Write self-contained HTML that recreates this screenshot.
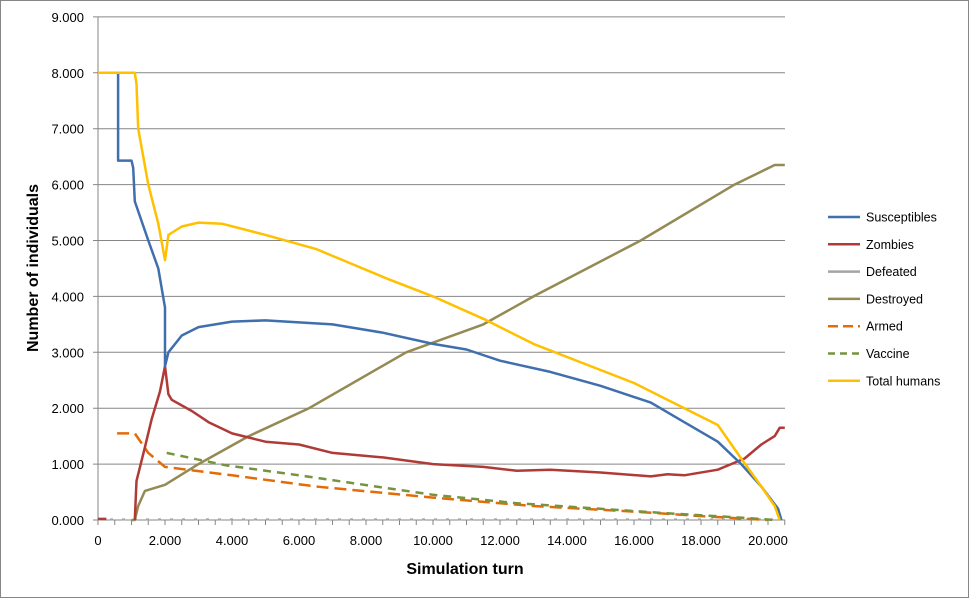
<!DOCTYPE html>
<html><head><meta charset="utf-8"><style>
body{margin:0;background:#fff;font-family:"Liberation Sans",sans-serif}
svg{display:block}
</style></head><body>
<svg id="s" width="970" height="599" xmlns="http://www.w3.org/2000/svg" font-family="Liberation Sans, sans-serif">
<rect x="0.5" y="0.5" width="968" height="597" fill="#fff" stroke="#868686"/>
<g id="grid"></g>
<g id="series" fill="none" stroke-linejoin="round"></g>
<g font-size="13" fill="#000" id="labels"></g>
<text x="465" y="574" font-size="16" font-weight="bold" text-anchor="middle">Simulation turn</text>
<text transform="translate(38,268) rotate(-90)" font-size="16" font-weight="bold" text-anchor="middle">Number of individuals</text>
<g font-size="12.5" id="legend"></g>
</svg>
<script>
const NS="http://www.w3.org/2000/svg";
const X=t=>98+t*33.5, Y=v=>520-v*55.9;
function el(p,tag,a,txt){const e=document.createElementNS(NS,tag);for(const k in a)e.setAttribute(k,a[k]);if(txt!==undefined)e.textContent=txt;document.getElementById(p).appendChild(e);return e;}
for(let i=0;i<=9;i++){const y=Y(i);el('grid','line',{x1:93,x2:785,y1:y,y2:y,stroke:'#868686','stroke-width':1});
el('labels','text',{x:84,y:y+5,'text-anchor':'end'},i+'.000');}
el('grid','line',{x1:98,x2:98,y1:17,y2:520,stroke:'#868686'});
for(let t=0;t<=20.5001;t+=0.5){el('grid','line',{x1:X(t),x2:X(t),y1:520,y2:525,stroke:'#868686'});}
for(let t=0;t<=20;t+=2){el('labels','text',{x:X(t),y:545,'text-anchor':'middle'},t==0?'0':t+'.000');}
function path(pts,color,w,dash){let d=pts.map((p,i)=>(i?'L':'M')+X(p[0]).toFixed(1)+' '+Y(p[1]).toFixed(1)).join(' ');
const a={d:d,stroke:color,'stroke-width':w};if(dash)a['stroke-dasharray']=dash;el('series','path',a);}
path([[0,0.01],[20.4,0.01]],'#a5a5a5',2,'3,9');
path([[0.57,1.55],[1.1,1.55],[1.5,1.2],[2,0.95],[4,0.8],[6.5,0.6],[10,0.4],[13,0.25],[16,0.15],[18,0.07],[20,0]],'#e36c09',2.5,'12,6');
path([[2.05,1.2],[3.8,0.98],[6,0.8],[10,0.45],[12.5,0.3],[15,0.2],[17,0.12],[19,0.05],[20.2,0]],'#77933c',2.5,'8,6');
path([[0,0.02],[0.25,0.02]],'#b03a37',2.5);
path([[1.0,0],[1.1,0],[1.2,0.25],[1.4,0.52],[2,0.63],[3,1.0],[4.5,1.5],[6.3,2.0],[9.2,3.0],[11.5,3.5],[13,4.0],[16.2,5.0],[19,6.0],[20.2,6.35],[20.5,6.35]],'#948a54',2.5);
path([[1.1,0],[1.15,0.7],[1.4,1.3],[1.6,1.8],[1.85,2.3],[2,2.75],[2.1,2.25],[2.2,2.15],[2.8,1.95],[3.3,1.75],[4,1.55],[5,1.4],[6,1.35],[7,1.2],[8.5,1.12],[10,1.0],[11.5,0.95],[12.5,0.88],[13.5,0.9],[15,0.85],[16.5,0.78],[17,0.82],[17.5,0.8],[18.5,0.9],[19.3,1.1],[19.8,1.35],[20.2,1.5],[20.35,1.65],[20.5,1.65]],'#b03a37',2.5);
path([[0,8],[0.6,8],[0.6,6.43],[1.0,6.43],[1.05,6.3],[1.1,5.7],[1.5,5.0],[1.8,4.5],[2.0,3.8],[2.0,2.75],[2.1,3.0],[2.5,3.3],[3,3.45],[4,3.55],[5,3.57],[7,3.5],[8.5,3.35],[10,3.15],[11,3.05],[12,2.85],[13.5,2.65],[15,2.4],[16.5,2.1],[17.5,1.75],[18.5,1.4],[19.2,1.0],[19.8,0.6],[20.3,0.2],[20.4,0]],'#3f6fad',2.5);
path([[0,8],[1.1,8],[1.15,7.8],[1.2,7.0],[1.5,6.0],[1.8,5.3],[2.0,4.65],[2.1,5.1],[2.5,5.25],[3,5.32],[3.7,5.3],[5,5.1],[6.5,4.85],[7.5,4.6],[8.7,4.3],[10,4.0],[11.5,3.6],[13,3.15],[14.5,2.8],[16,2.45],[17.5,2.0],[18.5,1.7],[19.2,1.1],[19.8,0.6],[20.2,0.25],[20.35,0]],'#ffc000',2.5);
const leg=[['Susceptibles','#3f6fad'],['Zombies','#b03a37'],['Defeated','#a5a5a5'],['Destroyed','#948a54'],['Armed','#e36c09','10,5'],['Vaccine','#77933c','7,5'],['Total humans','#ffc000']];
leg.forEach((l,i)=>{const y=217+i*27.3;const a={x1:828,x2:860,y1:y,y2:y,stroke:l[1],'stroke-width':2.5};if(l[2])a['stroke-dasharray']=l[2];el('legend','line',a);el('legend','text',{x:866,y:y+4.5},l[0]);});
</script>
</body></html>
